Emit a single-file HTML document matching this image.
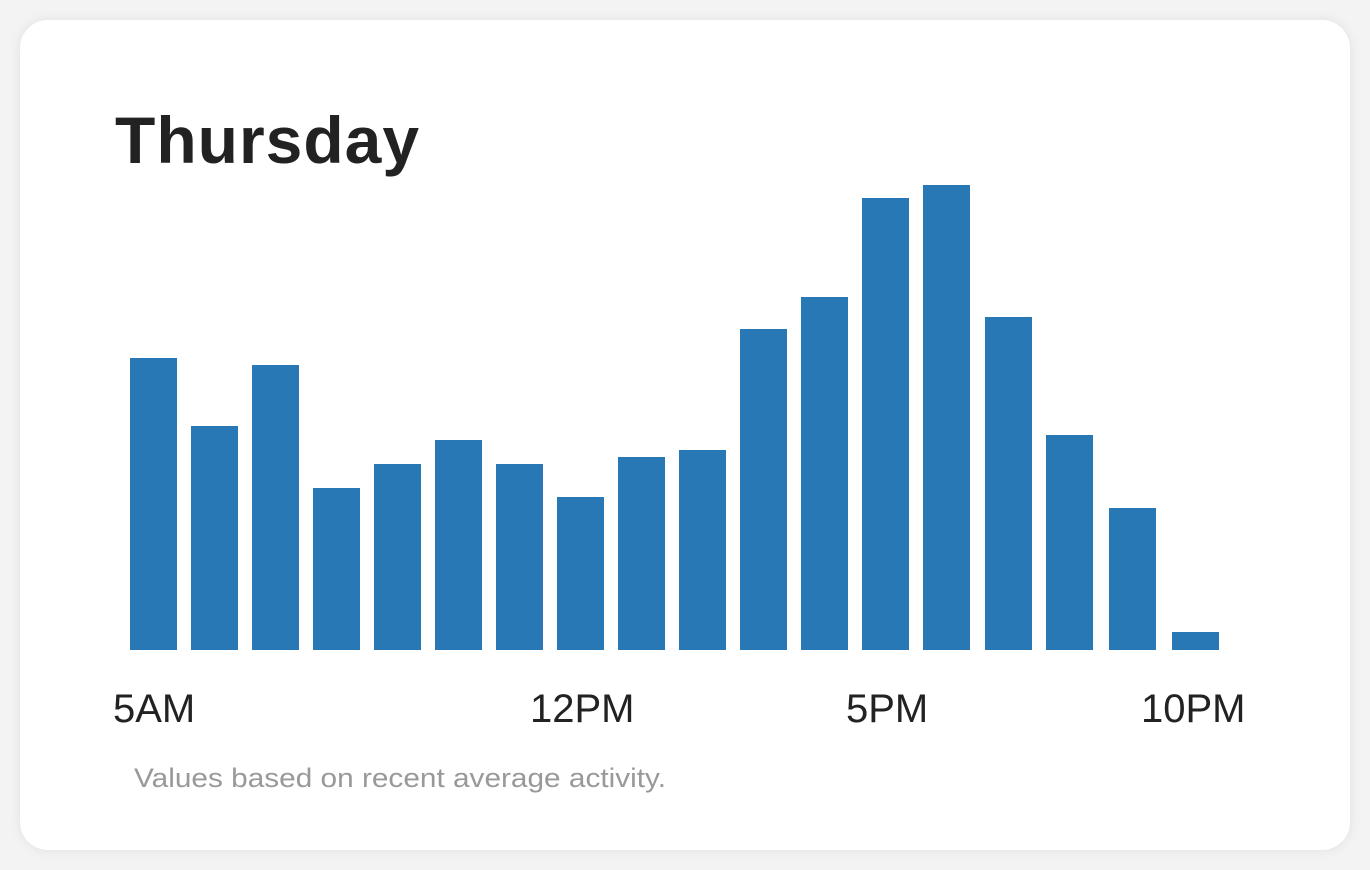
<!DOCTYPE html>
<html><head><style>
html,body{margin:0;padding:0;width:1370px;height:870px;background:#f3f3f3;overflow:hidden}
.card{position:absolute;left:20px;top:20px;width:1330px;height:830px;background:#fff;border-radius:28px;box-shadow:0 0 12px rgba(0,0,0,0.08)}
svg{position:absolute;left:0;top:0}
</style></head><body>
<div class="card"></div>
<svg width="1370" height="870" xmlns="http://www.w3.org/2000/svg">
<text x="115" y="163" font-family="Liberation Sans, sans-serif" font-weight="bold" font-size="66" fill="#222" letter-spacing="1">Thursday</text>
<g fill="#2878b5">
<rect x="130" y="358" width="47" height="292"/>
<rect x="191" y="426" width="47" height="224"/>
<rect x="252" y="365" width="47" height="285"/>
<rect x="313" y="488" width="47" height="162"/>
<rect x="374" y="464" width="47" height="186"/>
<rect x="435" y="440" width="47" height="210"/>
<rect x="496" y="464" width="47" height="186"/>
<rect x="557" y="497" width="47" height="153"/>
<rect x="618" y="457" width="47" height="193"/>
<rect x="679" y="450" width="47" height="200"/>
<rect x="740" y="329" width="47" height="321"/>
<rect x="801" y="297" width="47" height="353"/>
<rect x="862" y="198" width="47" height="452"/>
<rect x="923" y="185" width="47" height="465"/>
<rect x="985" y="317" width="47" height="333"/>
<rect x="1046" y="435" width="47" height="215"/>
<rect x="1109" y="508" width="47" height="142"/>
<rect x="1172" y="632" width="47" height="18"/>
</g>
<g font-family="Liberation Sans, sans-serif" font-size="40" fill="#222">
<text x="113" y="722">5AM</text>
<text x="530" y="722">12PM</text>
<text x="846" y="722">5PM</text>
<text x="1141" y="722">10PM</text>
</g>
<text x="134" y="787" font-family="Liberation Sans, sans-serif" font-size="27" fill="#999" textLength="532" lengthAdjust="spacingAndGlyphs">Values based on recent average activity.</text>
</svg>
</body></html>
